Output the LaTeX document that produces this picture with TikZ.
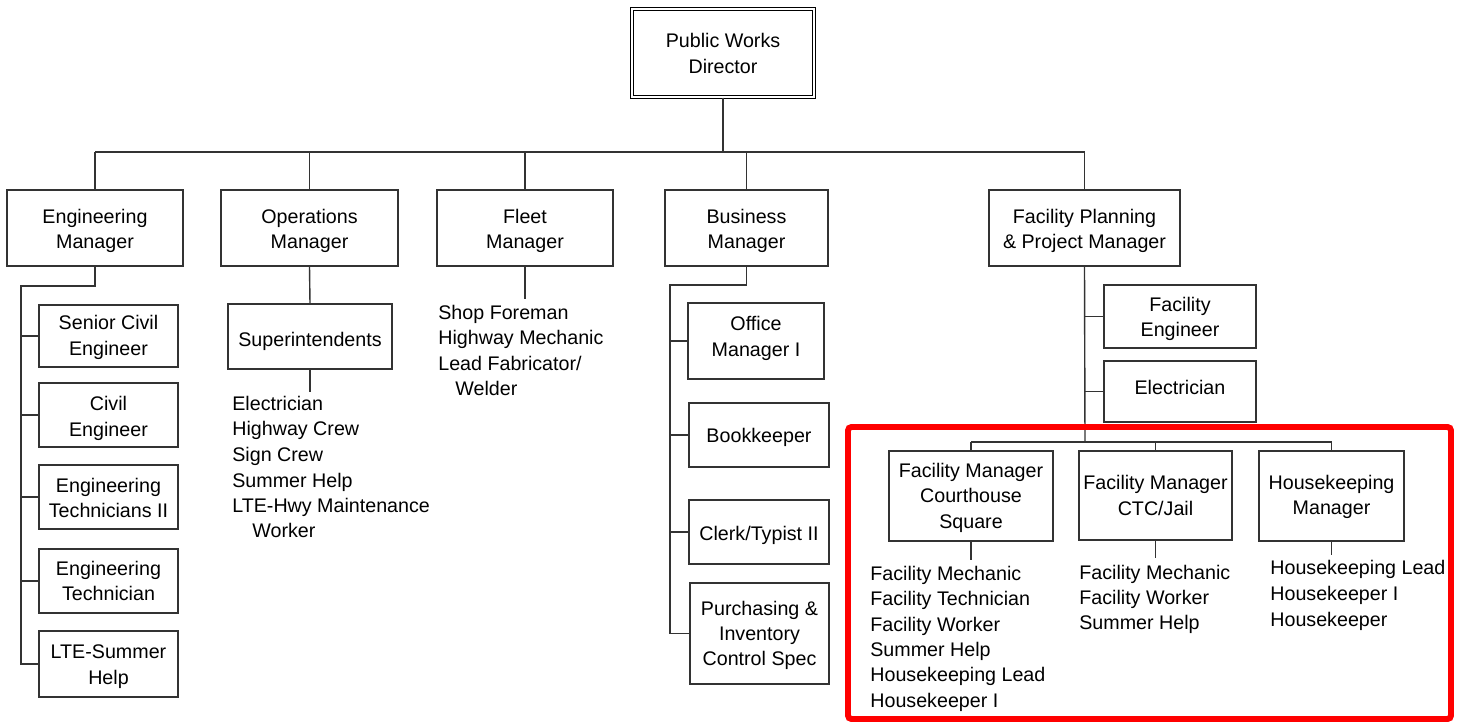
\documentclass[tikz,border=0pt]{standalone}
\usepackage{fontspec}
\setmainfont{Liberation Sans}
\definecolor{lc}{HTML}{333333}
\definecolor{redframe}{HTML}{FF0000}
\begin{document}
\begin{tikzpicture}[x=0.02cm,y=-0.02cm,
  font=\fontsize{11.2}{14.5}\selectfont,
  ln/.style={draw=lc, line width=0.8pt},
  box/.style={draw=lc, line width=0.8pt, inner sep=0pt},
  lbl/.style={align=center, inner sep=0pt, text=black, draw=none},
  tb/.style 2 args={label={[lbl, yshift=#1]center:{#2}}},
  sz/.style 2 args={minimum width=#1*0.02cm, minimum height=#2*0.02cm},
  lst/.style={anchor=west, inner sep=0pt, text height=8.2pt, text depth=0pt}]
\useasboundingbox (0,0) rectangle (1465,723);

% top
\node[box, draw=black, double, line width=0.7pt, double distance=1.4pt, sz={182}{88},
  tb={-0.3pt}{Public Works\\Director}] (dir) at (723,53) {};

% level 2
\node[box, sz={176}{76}, tb={-1.7pt}{Engineering\\Manager}] (eng) at (95,228) {};
\node[box, sz={177}{76}, tb={-1.7pt}{Operations\\Manager}] (ops) at (309.5,228) {};
\node[box, sz={176}{76}, tb={-1.7pt}{Fleet\\Manager}] (flt) at (525,228) {};
\node[box, sz={163}{76}, tb={-1.7pt}{Business\\Manager}] (bsn) at (746.5,228) {};
\node[box, sz={191}{76}, tb={-1.7pt}{Facility Planning\\\& Project Manager}] (fac) at (1084.5,228) {};

\coordinate (busy) at (722,152);
\draw[ln] (dir.south) -- (dir.south |- busy);
\draw[ln] (eng.north |- busy) -- (fac.north |- busy);
\foreach \n in {eng,ops,flt,bsn,fac} \draw[ln] (\n.north) -- (\n.north |- busy);

% engineering
\node[box, sz={139}{62}, tb={-0.85pt}{Senior Civil\\Engineer}] (sce) at (108.5,336) {};
\node[box, sz={139}{64}, tb={-2pt}{Civil\\Engineer}] (ce) at (108.5,415) {};
\node[box, sz={139}{64}, tb={-0.6pt}{Engineering\\Technicians II}] (et2) at (108.5,497) {};
\node[box, sz={139}{64}, tb={0pt}{Engineering\\Technician}] (et) at (108.5,581) {};
\node[box, sz={139}{66}, tb={-1.4pt}{LTE-Summer\\Help}] (lte) at (108.5,664) {};
\coordinate (engk) at (21,286);
\draw[ln] (eng.south) |- (engk) -- (engk |- lte.west) -- (lte.west);
\foreach \n in {sce,ce,et2,et} \draw[ln] (engk |- \n.west) -- (\n.west);

% operations
\node[box, sz={164}{65}, tb={-2.8pt}{Superintendents}] (sup) at (310,336.5) {};
\draw[ln] (ops.south) -- (sup.north);
\coordinate (supe) at (310,392);
\draw[ln] (sup.south) -- (supe);
\node[lst] (o1) at (232,403) {Electrician};
\node[lst] (o2) at (232,428) {Highway Crew};
\node[lst] (o3) at (232,454) {Sign Crew};
\node[lst] (o4) at (232,480) {Summer Help};
\node[lst] (o5) at (232,505) {LTE-Hwy Maintenance};
\node[lst] (o6) at (252,530) {Worker};

% fleet
\coordinate (flte) at (525,299);
\draw[ln] (flt.south) -- (flte);
\node[lst] (f1) at (438,312) {Shop Foreman};
\node[lst] (f2) at (438,337) {Highway Mechanic};
\node[lst] (f3) at (438,363) {Lead Fabricator/};
\node[lst] (f4) at (455,388) {Welder};

% business
\node[box, sz={136}{76}, tb={1.4pt}{Office\\Manager I}] (om) at (756,341) {};
\node[box, sz={140}{64}, tb={-1.1pt}{Bookkeeper}] (bk) at (759,435) {};
\node[box, sz={140}{64}, tb={-1.7pt}{Clerk/Typist II}] (clk) at (759,532) {};
\node[box, sz={139}{101}, tb={-1.1pt}{Purchasing \&\\Inventory\\Control Spec}] (pur) at (759.5,633.5) {};
\coordinate (bsk) at (670,285);
\draw[ln] (bsn.south) |- (bsk) -- (bsk |- pur.west) -- (pur.west);
\foreach \n in {om,bk,clk} \draw[ln] (bsk |- \n.west) -- (\n.west);

% facility planning
\node[box, sz={152}{63}, tb={-1.4pt}{Facility\\Engineer}] (fe) at (1180,316.5) {};
\node[box, sz={152}{61}, tb={2.3pt}{Electrician}] (el) at (1180,391.5) {};
\coordinate (fbus) at (1085,442);
\draw[ln] (fac.south) -- (fbus);
\foreach \n in {fe,el} \draw[ln] (fbus |- \n.west) -- (\n.west);

\node[box, sz={164}{90}, tb={-0.85pt}{Facility Manager\\Courthouse\\Square}] (fmc) at (971,496) {};
\node[box, sz={153}{89}, tb={0pt}{Facility Manager\\CTC/Jail}] (fmj) at (1155.5,495.5) {};
\node[box, sz={145}{90}, tb={-0.6pt}{Housekeeping\\Manager}] (hk) at (1331.5,496) {};
\draw[ln] (fmc.north |- fbus) -- (hk.north |- fbus);
\foreach \n in {fmc,fmj,hk} \draw[ln] (\n.north) -- (\n.north |- fbus);

\coordinate (fmce) at (971,560);
\coordinate (fmje) at (1155.5,558);
\coordinate (hke)  at (1331.5,555);
\draw[ln] (fmc.south) -- (fmce);
\draw[ln] (fmj.south) -- (fmje);
\draw[ln] (hk.south) -- (hke);

\node[lst] (c1) at (870,573) {Facility Mechanic};
\node[lst] (c2) at (870,598) {Facility Technician};
\node[lst] (c3) at (870,624) {Facility Worker};
\node[lst] (c4) at (870,649) {Summer Help};
\node[lst] (c5) at (870,674) {Housekeeping Lead};
\node[lst] (c6) at (870,700) {Housekeeper I};

\node[lst] (j1) at (1079,572) {Facility Mechanic};
\node[lst] (j2) at (1079,597) {Facility Worker};
\node[lst] (j3) at (1079,622) {Summer Help};

\node[lst] (h1) at (1270,567) {Housekeeping Lead};
\node[lst] (h2) at (1270,593) {Housekeeper I};
\node[lst] (h3) at (1270,619) {Housekeeper};

% highlight frame
\draw[draw=redframe, line width=3.4pt, rounded corners=2pt] (848,427) rectangle (1451,719);
\end{tikzpicture}
\end{document}
